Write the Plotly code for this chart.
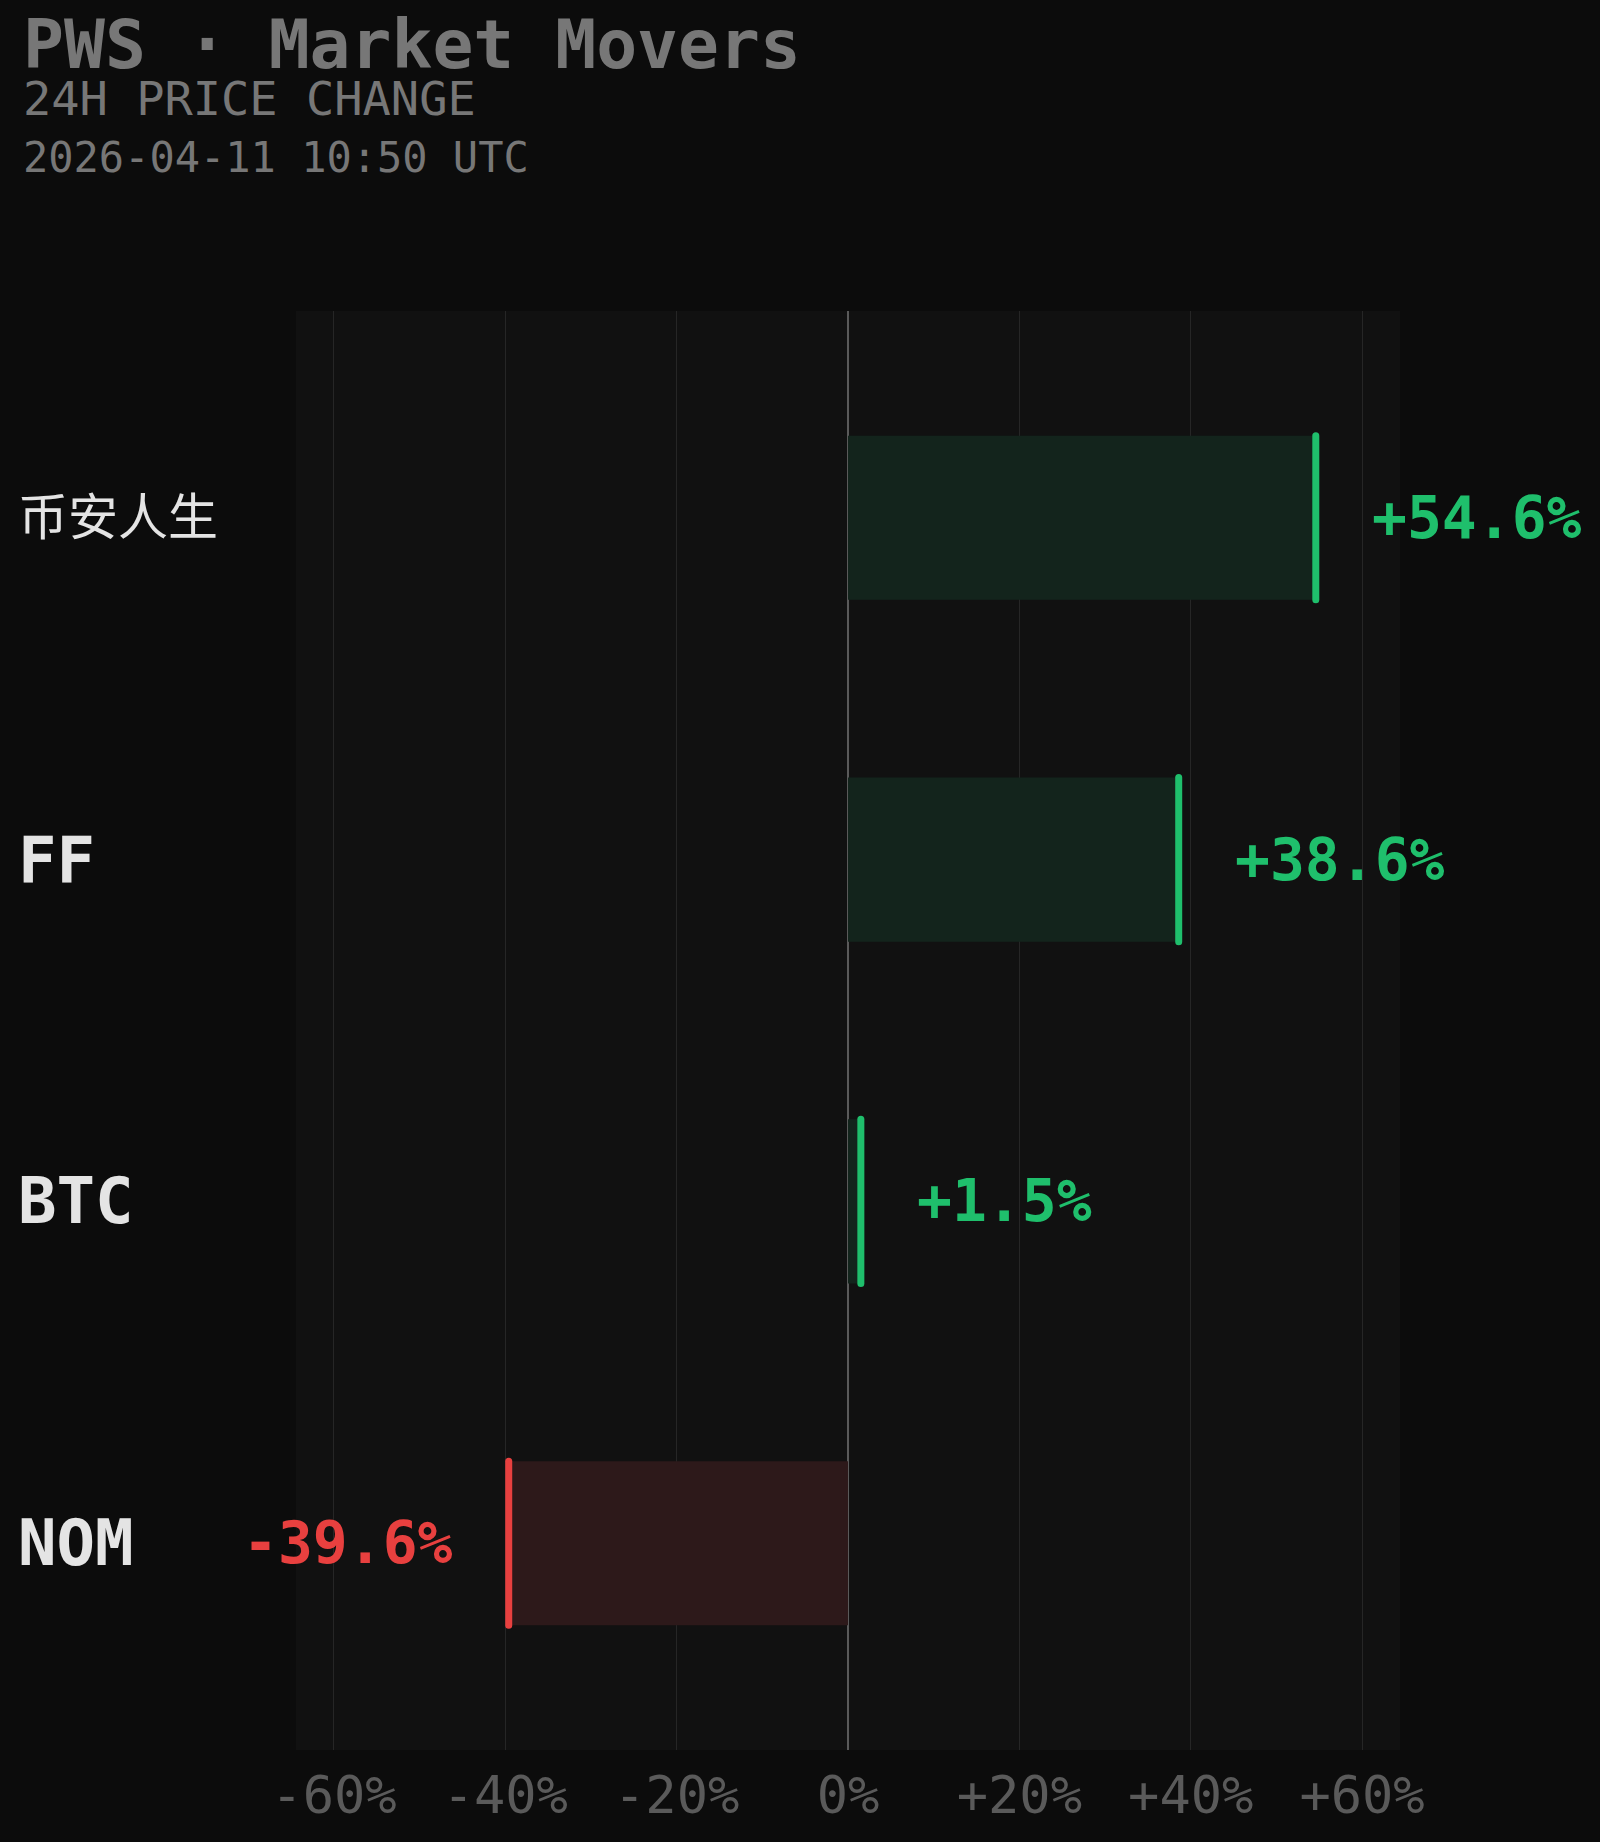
import plotly.graph_objects as go

# data
symbols = ["币安人生", "FF", "BTC", "NOM"]
changes = [54.6, 38.6, 1.5, -39.6]
tick_vals = [-60, -40, -20, 0, 20, 40, 60]
tick_text = ["-60%", "-40%", "-20%", "0%", "+20%", "+40%", "+60%"]

title = "PWS · Market Movers"
subtitle = "24H PRICE CHANGE"
stamp = "2026-04-11 10:50 UTC"

# style
MONO = "DejaVu Sans Mono, Noto Sans CJK SC, monospace"
GREEN = "#1fbf6c"
RED = "#e8403f"
GREEN_FILL = "#13241c"
RED_FILL = "#2d191a"
BAR_W = 0.48

idx = list(range(len(symbols)))
lim = max(abs(c) for c in changes) * 1.18

fig = go.Figure()

# translucent bar body
fig.add_trace(go.Bar(
    x=changes, y=idx, orientation="h", width=BAR_W,
    marker_color=[GREEN_FILL if c >= 0 else RED_FILL for c in changes],
    marker_line_width=0, hoverinfo="skip",
))

# solid cap line at the end of each bar
for i, c in zip(idx, changes):
    fig.add_trace(go.Scatter(
        x=[c, c], y=[i - BAR_W / 2, i + BAR_W / 2], mode="lines",
        line=dict(color=GREEN if c >= 0 else RED, width=7),
        hoverinfo="skip",
    ))

annotations = []
for i, (s, c) in enumerate(zip(symbols, changes)):
    cjk = any(ord(ch) > 0x2e80 for ch in s)
    annotations.append(dict(
        x=-0.2535, xref="paper", y=i, yref="y", text=s if cjk else f"<b>{s}</b>",
        xanchor="left", yanchor="middle", showarrow=False,
        font=dict(family=MONO, size=50 if cjk else 64, color="#e4e4e4"),
    ))
    annotations.append(dict(
        x=c, y=i, xref="x", yref="y", text=f"<b>{c:+.1f}%</b>",
        xanchor="left" if c >= 0 else "right", xshift=54 if c >= 0 else -54,
        yanchor="middle", showarrow=False,
        font=dict(family=MONO, size=58, color=GREEN if c >= 0 else RED),
    ))

# header lines
for txt, y, size, bold in [(title, 1.1855, 68, True), (subtitle, 1.1480, 47, False),
                           (stamp, 1.107, 42, False)]:
    annotations.append(dict(
        x=-0.249, xref="paper", y=y, yref="paper",
        text=f"<b>{txt}</b>" if bold else txt,
        xanchor="left", yanchor="middle", showarrow=False,
        font=dict(family=MONO, size=size, color="#777777"),
    ))

fig.update_layout(
    width=1600, height=1842,
    margin=dict(l=296, r=200, t=311, b=92),
    paper_bgcolor="#0c0c0c", plot_bgcolor="#111111",
    showlegend=False, annotations=annotations,
    font=dict(family=MONO, color="#5a5a5a"),
)
fig.update_xaxes(
    range=[-lim, lim], tickvals=tick_vals, ticktext=tick_text,
    tickfont=dict(family=MONO, size=52, color="#5a5a5a"),
    showgrid=True, gridcolor="#262626", gridwidth=1,
    zeroline=True, zerolinecolor="#5a5a5a", zerolinewidth=2,
    showline=False, ticks="", ticklabelstandoff=10, fixedrange=True,
)
fig.update_yaxes(
    range=[len(symbols) - 1 + 0.605, -0.605], showticklabels=False,
    showgrid=False, zeroline=False, showline=False, ticks="", fixedrange=True,
)

# no page margin, rounded ends on the cap lines
post = (
    "document.body.style.margin='0';"
    "document.body.style.background='#0c0c0c';"
    "document.querySelectorAll('.scatterlayer path.js-line')"
    ".forEach(function(p){p.style.strokeLinecap='round';});"
)
fig.write_html("out.html", post_script=post, config={"displayModeBar": False})
